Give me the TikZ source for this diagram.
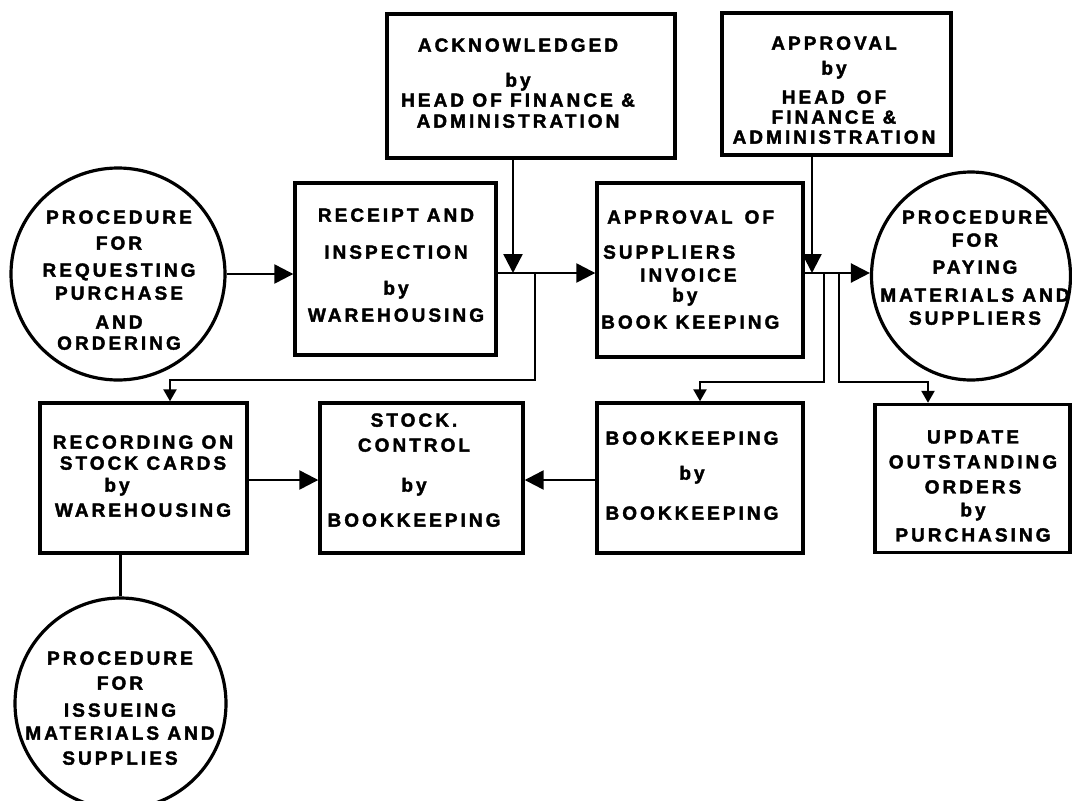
\documentclass[tikz,border=0pt]{standalone}
\usepackage{fontspec}
\setmainfont{Liberation Sans}
\newfontfamily\lblfont{Liberation Sans}[LetterSpace=16, FakeBold=2]
\usetikzlibrary{arrows.meta,shapes.geometric}
% heavy letter-spaced label font, 19pt, tight base line skip
\newcommand\lbl{\lblfont\bfseries\fontsize{19}{20}\selectfont}

\begin{document}
\begin{tikzpicture}[x=1pt,y=-1pt,
  box/.style={draw, line width=3.4pt, rectangle, inner sep=0pt},
  procshape/.style={draw, line width=3.2pt, ellipse, inner sep=0pt},
  txt/.style={inner sep=0pt, align=center, anchor=north, font=\lbl},
  conn/.style={line width=2.4pt},
  bigtip/.style={-{Triangle[length=19pt,width=19pt]}},
  smalltip/.style={-{Triangle[length=12pt,width=13pt]}},
]
\useasboundingbox[fill=white] (0,0) rectangle (1072,801);

% ---- procedure circles ----
\node[procshape, minimum width=214pt, minimum height=212pt] (c1) at (118,274) {};
\node[txt] (c1t) at (119,210.2)
  {PROCEDURE\\[6pt]FOR\\[7pt]REQUESTING\\[3pt]PURCHASE\\[9pt]AND\\[1pt]ORDERING};

\node[procshape, minimum width=199pt, minimum height=208pt] (c2) at (971,276) {};
\node[txt] (c2t) at (975,210.2)
  {PROCEDURE\\[3pt]FOR\\[7pt]PAYING\\[8pt]MATERIALS AND\\[3pt]SUPPLIERS};

\node[procshape, minimum width=211pt, minimum height=211pt] (c3) at (120.5,703.5) {};
\node[txt] (c3t) at (120,651.2)
  {PROCEDURE\\[5pt]FOR\\[7pt]ISSUEING\\[3pt]MATERIALS AND\\[5pt]SUPPLIES};

% ---- top row ----
\node[box, minimum width=288pt, minimum height=144pt] (ack) at (531,86) {};
\node[txt] (ackt) at (518,38.2)
  {ACKNOWLEDGED\\[15pt]by\\HEAD OF FINANCE \&\\[1pt]ADMINISTRATION};

\node[box, minimum width=229pt, minimum height=142pt] (appr) at (836.5,84) {};
\node[txt] (apprt) at (834,36.2)
  {APPROVAL\\[5pt]by\\[9pt]HEAD\hspace{12pt}OF\\FINANCE \&\\ADMINISTRATION};

% ---- middle row ----
\node[box, minimum width=201pt, minimum height=172pt] (rec) at (395.5,269) {};
\node[txt] (rect) at (396,208.2)
  {RECEIPT AND\\[17pt]INSPECTION\\[16pt]by\\[7pt]WAREHOUSING};

\node[box, minimum width=206pt, minimum height=174pt] (apof) at (700,270) {};
\node[txt, align=left, anchor=north west] (apoft) at (601,210.2)
  {\hspace*{6pt}APPROVAL\hspace{12pt}OF\\[15pt]\hspace*{2pt}SUPPLIERS\\[3pt]%
   \hspace*{39pt}INVOICE\\\hspace*{71pt}by\\[7pt]BOOK KEEPING};

% ---- bottom row ----
\node[box, minimum width=207pt, minimum height=150pt] (recd) at (143.5,478) {};
\node[txt] (recdt) at (143,435.2)
  {RECORDING ON\\[1pt]STOCK CARDS\\[2pt]by\rule{52pt}{0pt}\\[5pt]WAREHOUSING};

\node[box, minimum width=203pt, minimum height=150pt] (stock) at (421.5,478) {};
\node[txt] (stockt) at (414,413.2)
  {STOCK.\\[5pt]CONTROL\\[20pt]by\\[15pt]BOOKKEEPING};

\node[box, minimum width=206pt, minimum height=150pt] (bk) at (700,478) {};
\node[txt] (bkt) at (692,431.2)
  {BOOKKEEPING\\[15pt]by\\[20pt]BOOKKEEPING};

\node[box, minimum width=195pt, minimum height=148pt] (upd) at (972.5,478.5) {};
\node[txt] (updt) at (973,430.2)
  {UPDATE\\[5pt]OUTSTANDING\\[5pt]ORDERS\\[3pt]by\\[5pt]PURCHASING};

% ---- connectors ----
\coordinate (j1) at (513,273);
\coordinate (b1) at (535,273);
\coordinate (t1) at (170,380);
\coordinate (j2) at (812,273);
\coordinate (b2) at (824,273);
\coordinate (t2) at (700,382);
\coordinate (b3) at (839,273);
\coordinate (t3) at (928,382);

\draw[conn,bigtip] (c1.east) -- (c1.east -| rec.west);
\draw[conn,bigtip] (rec.east |- j1) -- (apof.west |- j1);
\draw[conn,bigtip] (j1 |- ack.south) -- (j1);
\draw[conn,smalltip] (b1) |- (t1) -- (t1 |- recd.north);

\draw[conn,bigtip] (j2 |- appr.south) -- (j2);
\draw[conn,bigtip] (apof.east |- j2) -- (c2.west |- j2);
\draw[conn,smalltip] (b2) |- (t2) -- (t2 |- bk.north);
\draw[conn,smalltip] (b3) |- (t3) -- (t3 |- upd.north);

\draw[conn,bigtip] ([yshift=-2pt]recd.east) -- ([yshift=-2pt]stock.west);
\draw[conn,bigtip] ([yshift=-2pt]bk.west) -- ([yshift=-2pt]stock.east);
\draw[conn] (c3.north |- recd.south) -- (c3.north);
\end{tikzpicture}
\end{document}
